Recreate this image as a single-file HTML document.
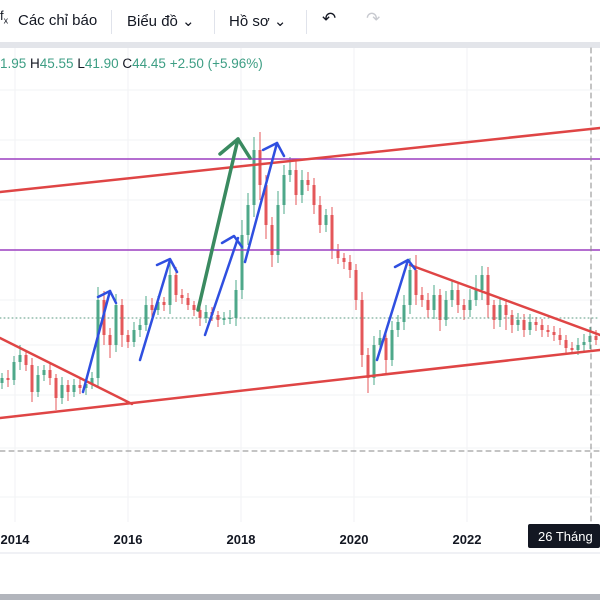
<!DOCTYPE html>
<html><head><meta charset="utf-8"><style>
body{margin:0;width:600px;height:600px;overflow:hidden;background:#fff;font-family:"Liberation Sans","Noto Sans CJK SC",sans-serif;position:relative}
.tb{position:absolute;top:0;left:0;width:600px;height:42px;background:#fff}
.tb span{position:absolute;top:12px;font-size:15px;color:#131722}
.sep{position:absolute;top:10px;width:1px;height:24px;background:#e0e3eb}
.band{position:absolute;top:42px;left:0;width:600px;height:6px;background:#e3e5ea}
.ohlc{position:absolute;top:56px;left:0;font-size:13.5px;color:#131722;white-space:nowrap}
.ohlc b{font-weight:normal;color:#3d9e84}
</style></head><body>
<div class="tb">
<span style="left:0;top:8px;font-size:13px">f<sub style="font-size:9px">x</sub></span>
<span style="left:18px">Các chỉ báo</span>
<div class="sep" style="left:111px"></div>
<span style="left:127px">Biểu đồ ⌄</span>
<div class="sep" style="left:214px"></div>
<span style="left:229px">Hồ sơ ⌄</span>
<div class="sep" style="left:306px"></div>
<span style="left:322px;font-size:17px;top:9px">↶</span>
<span style="left:366px;font-size:17px;top:9px;color:#c8cad0">↷</span>
</div>
<div class="band"></div>
<svg id="ch" width="600" height="600" style="position:absolute;top:0;left:0"></svg>
<div class="ohlc"><b>1.95</b> H<b>45.55</b> L<b>41.90</b> C<b>44.45</b> <b>+2.50 (+5.96%)</b></div>
<script>
const closes=[38.45,38.25,40.05,40.75,39.75,37.05,38.75,39.25,38.45,36.45,37.75,37.05,37.75,37.45,37.85,38.45,46.25,42.75,41.75,45.75,42.75,42.05,43.25,43.75,45.75,45.25,46.05,45.75,48.75,46.75,46.45,45.75,45.25,44.45,45.05,44.75,44.25,44.45,44.45,47.25,52.75,55.75,61.25,57.75,53.75,50.75,55.75,58.75,59.25,56.75,58.25,57.75,55.75,53.75,54.75,51.25,50.45,50.05,49.25,46.25,40.75,38.45,41.75,42.45,40.25,43.25,44.05,45.75,49.25,46.75,46.25,45.25,46.75,44.25,46.25,47.25,45.75,45.25,46.25,47.25,48.75,45.75,44.25,45.75,44.75,43.75,44.25,43.25,44.05,43.75,43.25,43.05,42.75,42.25,41.45,41.25,41.75,42.05,42.65,42.25];
const upWick=[0.5,0.8,0.6,1.0,0.4,0.7,0.9,0.5,0.6,0.4,0.8,0.5,0.6,0.7,0.5,0.6,1.3,0.9,0.7,1.1,0.6,0.5,0.8,0.6,0.9,0.7,0.6,0.5,1.2,0.8,0.6,0.5,0.4,0.6,0.7,0.5,0.4,0.6,0.8,1.0,1.5,1.2,1.3,1.8,1.0,0.8,1.4,1.0,1.3,0.9,1.0,0.8,0.7,0.9,0.6,0.8,0.6,0.5,0.7,0.6,0.8,0.7,0.9,0.8,0.6,0.9,0.7,1.0,1.2,1.5,0.8,0.7,1.0,0.6,0.9,1.0,0.7,0.6,1.1,1.5,0.9,0.8,0.5,0.8,0.6,0.5,0.7,0.6,0.8,0.5,0.6,0.5,0.6,0.7,0.5,0.6,0.7,0.8,0.9,0.6];
const downWick=[0.6,0.7,0.5,0.8,0.6,1.0,0.5,0.6,0.7,1.2,0.6,0.9,0.5,0.6,0.7,0.5,0.8,1.0,1.3,0.7,1.2,0.6,0.5,0.7,0.6,0.8,0.5,0.6,0.9,0.7,0.6,0.5,0.6,0.8,0.5,0.6,0.7,0.5,0.6,0.8,0.9,1.0,1.2,1.5,1.4,1.2,0.8,0.9,0.7,1.0,0.8,0.6,0.9,0.8,0.7,0.9,0.6,0.7,0.8,1.0,1.2,1.5,0.7,0.6,1.3,0.6,0.7,0.8,0.9,1.0,0.7,0.8,0.9,1.1,0.6,0.7,0.8,1.0,0.7,0.6,1.0,1.3,0.9,0.7,1.5,0.8,0.6,0.7,0.5,0.6,0.7,0.5,0.6,0.5,0.6,0.4,0.5,0.6,0.7,0.5];
const years=["2014","2016","2018","2020","2022"];
const yearPos=[2014,2016,2018,2020,2022];
const svg=document.getElementById('ch');
const NS='http://www.w3.org/2000/svg';
const xOf=i=>2+i*6;
const xYear=yr=>15+(yr-2014)*56.5;
const yOf=p=>762.5-p*10;
function mk(t,a,parent){const e=document.createElementNS(NS,t);for(const k in a)e.setAttribute(k,a[k]);(parent||svg).appendChild(e);return e;}
// grid
for(let k=0;k<yearPos.length;k++){const g=mk('line',{x1:xYear(yearPos[k]),x2:xYear(yearPos[k]),y1:48,y2:522,stroke:'#f0f1f4'});

}
[90,140,200,250,300,345,395,448,497].forEach(y=>{const g=mk('line',{x1:0,x2:600,y1:y,y2:y,stroke:'#f2f3f5'});

});
// candles
for(let i=0;i<closes.length;i++){
 const c=closes[i],o=i?closes[i-1]:closes[0]-0.5;
 const hi=Math.max(o,c)+upWick[i],lo=Math.min(o,c)-downWick[i];
 const col=c>=o?'#4ea88a':'#e4575a';
 const x=xOf(i);
 const w=mk('line',{x1:x,x2:x,y1:yOf(hi),y2:yOf(lo),stroke:col,'stroke-width':1});
 
 
 const top=yOf(Math.max(o,c)),h=Math.max(1,Math.abs(yOf(o)-yOf(c)));
 const b=mk('rect',{x:x-1.5,y:top,width:3,height:h,fill:col});
 
 
}
function ln(a,name,col,w,dash){const e=mk('line',{x1:a[0],y1:a[1],x2:a[2],y2:a[3],stroke:col,'stroke-width':w,'stroke-linecap':'round'});if(dash)e.setAttribute('stroke-dasharray',dash);

}
ln([0,159,600,159],'resistance-line-upper','#9c3fc0',1.5);
ln([0,250,600,250],'resistance-line-lower','#9c3fc0',1.5);
ln([0,318,600,318],'last-price-line','#5a9a80',1,'1 3');
ln([0,451,600,451],'crosshair-horizontal','#888',1,'5 4');
ln([591,48,591,522],'crosshair-vertical','#888',1,'5 4');
ln([0,192,600,128],'channel-top','#df4545',2.5);
ln([0,418,600,350],'channel-bottom','#df4545',2.5);
ln([0,338,132,404],'trendline-left','#df4545',2.5);
ln([410,265,600,335],'trendline-right','#df4545',2.5);
function arrow(p,name,col,w){const e=mk('polyline',{points:p,fill:'none',stroke:col,'stroke-width':w,'stroke-linecap':'round','stroke-linejoin':'round'});

}
arrow('83,392 110,291','arrow-1','#2f4fe0',2.5);arrow('98,297 110,291 116,303','arrow-1-head','#2f4fe0',2.5);
arrow('140,360 170,260','arrow-2','#2f4fe0',2.5);arrow('157,265 170,259 177,272','arrow-2-head','#2f4fe0',2.5);
arrow('205,335 238,238','arrow-3','#2f4fe0',2.5);arrow('222,243 234,236 242,247','arrow-3-head','#2f4fe0',2.5);
arrow('245,262 277,143','arrow-4','#2f4fe0',2.5);arrow('263,150 277,143 284,156','arrow-4-head','#2f4fe0',2.5);
arrow('377,360 408,260','arrow-5','#2f4fe0',2.5);arrow('395,267 408,260 415,269','arrow-5-head','#2f4fe0',2.5);
arrow('198,310 238,139','arrow-green','#3a8a60',3.5);arrow('220,154 238,139 250,158','arrow-green-head','#3a8a60',3.5);
// axis
mk('rect',{x:0,y:522,width:600,height:32,fill:'#fff'});
for(let k=0;k<years.length;k++){const t=mk('text',{x:xYear(yearPos[k]),y:544,'text-anchor':'middle','font-size':13,'font-weight':'bold',fill:'#131722','font-family':'Liberation Sans, sans-serif'});t.textContent=years[k];

}
const bx=mk('rect',{x:528,y:524,width:72,height:24,fill:'#131722',rx:2});


const bt=mk('text',{x:538,y:541,'font-size':13,fill:'#fff','font-family':'Liberation Sans, sans-serif'});bt.textContent='26 Tháng';


const sl=mk('line',{x1:0,x2:600,y1:553,y2:553,stroke:'#e0e3eb'});


const bb=mk('rect',{x:0,y:594,width:600,height:6,fill:'#b2b5bc'});


</script>
</body></html>
